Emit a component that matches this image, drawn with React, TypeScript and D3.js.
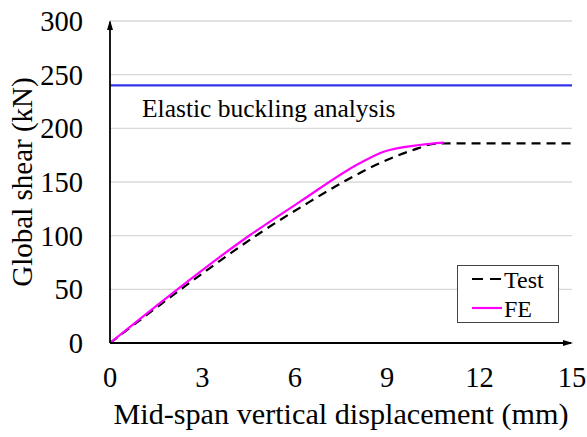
import React from "react";
import * as d3 from "d3";

const testX = [0, 1.62, 3.47, 4.87, 6.49, 7.69, 8.77, 9.84, 10.5, 11.0, 15];
const testY = [0, 35.4, 74.5, 102.5, 131.7, 151.9, 167.7, 179.8, 185.4, 186, 186];
const feX = [0, 4.55, 6.17, 8.12, 8.86, 10.06, 10.84];
const feY = [0, 100.6, 131.7, 167.7, 178, 184.5, 186.6];
const elasticY = 240;
const xTicks = [0, 3, 6, 9, 12, 15];
const yTicks = [0, 50, 100, 150, 200, 250, 300];

const W = 587, H = 437;
const x = d3.scaleLinear().domain([0, 15]).range([110, 572]);
const y = d3.scaleLinear().domain([0, 300]).range([343, 21]);
const FONT = "Liberation Serif";

export default function App() {
  const line = d3.line<[number, number]>().x(d => x(d[0])).y(d => y(d[1])).curve(d3.curveMonotoneX);
  const testPts = testX.map((v, i) => [v, testY[i]] as [number, number]);
  const fePts = feX.map((v, i) => [v, feY[i]] as [number, number]);
  const ts = (size: number) => ({ fontFamily: FONT, fontSize: size + "px" });
  return (
    <svg width={W} height={H} style={{ position: "absolute", left: 0, top: 0, background: "#fff" }}>
      {yTicks.filter(t => t > 0).map(t => (
        <line key={t} x1={x(0)} x2={x(15)} y1={y(t)} y2={y(t)} stroke="#d9d9d9" strokeWidth={1.3} />
      ))}
      <line x1={x(0)} x2={x(15)} y1={y(elasticY)} y2={y(elasticY)} stroke="#3333ee" strokeWidth={2.2} />
      <text x={142} y={117} style={ts(25.5)} fill="#000">Elastic buckling analysis</text>
      <path d={line(testPts) || ""} fill="none" stroke="#000" strokeWidth={2.2} strokeDasharray="9,6" />
      <path d={line(fePts) || ""} fill="none" stroke="#ff00ff" strokeWidth={2.2} />
      <line x1={x(0)} x2={x(0)} y1={y(0)} y2={y(300) + 1} stroke="#000" strokeWidth={1.8} />
      <path d={`M${x(0) - 3},${y(300) + 9} L${x(0)},${y(300) - 1} L${x(0) + 3},${y(300) + 9} Z`} fill="#000" />
      <line x1={x(0)} x2={x(15) - 1} y1={y(0)} y2={y(0)} stroke="#000" strokeWidth={1.8} />
      <path d={`M${x(15) - 9},${y(0) - 3} L${x(15) + 1},${y(0)} L${x(15) - 9},${y(0) + 3} Z`} fill="#000" />
      {yTicks.map(t => (
        <text key={t} x={83} y={y(t) + 10} style={ts(28.5)} textAnchor="end">{t}</text>
      ))}
      {xTicks.map(t => (
        <text key={t} x={x(t)} y={387} style={ts(28.5)} textAnchor="middle">{t}</text>
      ))}
      <text x={341} y={424} style={ts(30.2)} textAnchor="middle">Mid-span vertical displacement (mm)</text>
      <text transform={`translate(32,182) rotate(-90)`} style={ts(29)} textAnchor="middle">Global shear (kN)</text>
      <rect x={457.5} y={265.5} width={101} height={57} fill="#fff" stroke="#444" strokeWidth={1} />
      <line x1={472} x2={502} y1={279} y2={279} stroke="#000" strokeWidth={2.2} strokeDasharray="11,7" />
      <text x={504} y={288} style={ts(24)}>Test</text>
      <line x1={472} x2={502} y1={308} y2={308} stroke="#ff00ff" strokeWidth={2.2} />
      <text x={504} y={317} style={ts(24)}>FE</text>
    </svg>
  );
}
